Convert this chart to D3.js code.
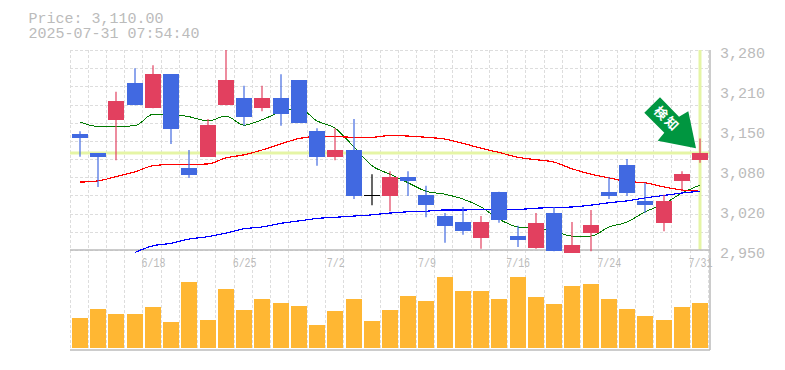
<!DOCTYPE html>
<html>
<head>
<meta charset="utf-8">
<script src="https://cdn.jsdelivr.net/npm/d3@7"></script>
<style>
  body { margin: 0; background: #fff; }
  text { font-family: "Liberation Mono", monospace; }
</style>
</head>
<body>
<div id="chart"></div>
<script>
const dates = ["6/12","6/13","6/16","6/17","6/18","6/19","6/20","6/23","6/24","6/25",
  "6/26","6/27","6/30","7/1","7/2","7/3","7/4","7/7","7/8","7/9",
  "7/10","7/11","7/14","7/15","7/16","7/17","7/18","7/22","7/23","7/24",
  "7/25","7/28","7/29","7/30","7/31"];
const labelDates = ["6/18","6/25","7/2","7/9","7/16","7/24","7/31"];

const opens  = [3141,3110,3165,3226,3184,3240,3085,3104,3189,3201,3184,3201,3230,3146,3104,3115,3041,3039,3070,3041,3006,2996,2970,3046,2973,2953,3011,2945,2978,3046,3090,3031,2995,3064,3099];
const highs  = [3146,3110,3211,3250,3255,3240,3115,3166,3280,3221,3221,3240,3230,3151,3151,3166,3075,3080,3080,3056,3011,3021,3006,3046,2990,3011,3021,2996,3016,3070,3100,3061,3041,3080,3134];
const lows   = [3104,3054,3098,3189,3184,3125,3069,3104,3189,3155,3179,3155,3160,3089,3098,3034,3024,3014,3039,3004,2962,2975,2952,2995,2955,2952,2948,2945,2948,3034,3039,3011,2981,3047,3094];
const closes = [3135,3104,3196,3189,3240,3150,3074,3156,3230,3170,3201,3174,3160,3104,3115,3039,3041,3070,3064,3024,2990,2981,2996,3000,2966,2995,2948,2958,2991,3039,3044,3024,3031,3075,3110];
const volume = [30,39,34,34,41,26,66,28,59,38,49,45,42,23,37,49,27,38,52,47,71,57,57,49,71,51,44,62,64,49,39,32,28,41,45];

const maShort = [3161,3154,3154,3155,3174,3174,3170,3163,3171,3156,3165,3178,3184,3163,3151,3120,3089,3075,3061,3047,3042,3034,3021,3001,2988,2986,2981,2973,2973,2988,2996,3013,3026,3044,3057];
const maMid   = [3062,3064,3071,3079,3089,3091,3091,3092,3102,3107,3115,3125,3134,3137,3137,3136,3136,3139,3138,3136,3133,3126,3118,3111,3103,3099,3095,3084,3075,3069,3063,3061,3054,3049,3047];
const maLong  = [null,null,null,2946,2957,2961,2968,2972,2978,2985,2988,2994,2998,3002,3004,3006,3008,3011,3013,3014,3016,3016,3017,3017,3017,3019,3020,3021,3024,3028,3031,3036,3040,3044,3047];

const priceTicks = [3280,3214,3148,3082,3016,2950];
const lastPrice = 3110;
const priceText = "Price: 3,110.00";
const timeText = "2025-07-31 07:54:40";

const width = 785, height = 370;
const plotLeft = 70, plotRight = 710, plotTop = 50, priceBottom = 250, volBottom = 348, boxBottom = 350;
const red = "#e2405f", blue = "#4169e1", grey = "#bbb", hilite = "#e5f5a5";

const svg = d3.select("#chart").append("svg")
  .attr("width", width).attr("height", height)
  .style("display", "block");

// index -> left edge of the candle, rounded like the reference
const x = d3.scaleLinear().domain([0, dates.length - 1]).range([72, 692]);
const barW = 16;
const cx = i => Math.round(x(i)) + barW / 2;
const y = d3.scaleLinear().domain([2950, 3280]).range([priceBottom, plotTop]);
const yVol = d3.scaleLinear().domain([0, 100]).range([volBottom, volBottom - 100]);

// — Grid —
const grid = svg.append("g")
  .attr("stroke", "#ddd")
  .attr("stroke-dasharray", "3,2")
  .attr("shape-rendering", "crispEdges");
d3.range(dates.length + 1).forEach(i => {
  const gx = Math.floor(x(i) - 2) + 0.5;
  grid.append("line").attr("x1", gx).attr("x2", gx).attr("y1", plotTop).attr("y2", boxBottom);
});
d3.range(2950, 3281, 30).forEach(v => {
  const gy = Math.round(y(v)) + 0.5;
  grid.append("line").attr("x1", plotLeft).attr("x2", plotRight).attr("y1", gy).attr("y2", gy);
});

// — Highlight of the last price and the last day —
svg.append("line")
  .attr("x1", plotLeft).attr("x2", plotRight)
  .attr("y1", y(lastPrice)).attr("y2", y(lastPrice))
  .attr("stroke", hilite).attr("stroke-width", 3);
svg.append("line")
  .attr("x1", cx(34)).attr("x2", cx(34))
  .attr("y1", plotTop).attr("y2", priceBottom)
  .attr("stroke", hilite).attr("stroke-width", 3);

// — Volume —
svg.append("g").selectAll("rect")
  .data(volume)
  .join("rect")
    .attr("x", (d, i) => Math.round(x(i)))
    .attr("y", d => yVol(d))
    .attr("width", barW)
    .attr("height", d => yVol(0) - yVol(d))
    .attr("fill", "#ffb733");

// — Frame —
const frame = svg.append("g")
  .attr("stroke", grey).attr("stroke-width", 1.5).attr("fill", "none");
frame.append("line").attr("x1", plotLeft).attr("x2", plotRight).attr("y1", priceBottom).attr("y2", priceBottom);
frame.append("line").attr("x1", plotLeft).attr("x2", plotRight).attr("y1", boxBottom).attr("y2", boxBottom);
frame.append("line").attr("x1", plotRight).attr("x2", plotRight).attr("y1", plotTop).attr("y2", boxBottom);

// — Moving averages —
const line = d3.line()
  .defined(d => d !== null)
  .curve(d3.curveMonotoneX)
  .x((d, i) => cx(i))
  .y(d => y(d));
[[maShort, "#007a00", 1], [maMid, "#ff0000", 1.2], [maLong, "#0000ff", 1.2]].forEach(([s, c, w]) => {
  svg.append("path")
    .datum(s)
    .attr("fill", "none")
    .attr("stroke", c)
    .attr("stroke-width", w)
    .attr("shape-rendering", "crispEdges")
    .attr("d", line);
});

// — Candles —
const candle = svg.append("g").selectAll("g")
  .data(dates.map((d, i) => i))
  .join("g");
const candleColor = i => closes[i] > opens[i] ? red : closes[i] < opens[i] ? blue : "#000";
candle.append("line")
  .attr("x1", i => cx(i)).attr("x2", i => cx(i))
  .attr("y1", i => y(highs[i])).attr("y2", i => y(lows[i]))
  .attr("stroke", candleColor)
  .attr("stroke-width", 1.2);
candle.append("rect")
  .attr("x", i => Math.round(x(i)))
  .attr("y", i => Math.round(y(Math.max(opens[i], closes[i]))))
  .attr("width", barW)
  .attr("height", i => Math.max(1, Math.round(y(Math.min(opens[i], closes[i]))) - Math.round(y(Math.max(opens[i], closes[i])))))
  .attr("fill", candleColor);

// — Axes —
const yAxis = d3.axisRight(y)
  .tickValues(priceTicks)
  .tickSize(0)
  .tickPadding(10)
  .tickFormat(d => d3.format(",")(Math.round(d / 10) * 10));
const gy = svg.append("g")
  .attr("transform", `translate(${plotRight},3)`)
  .call(yAxis);
gy.select(".domain").remove();
gy.selectAll("text")
  .attr("fill", grey)
  .style("font-size", "15px");

const xBand = d3.scalePoint().domain(dates).range([cx(0), cx(34)]);
const xAxis = d3.axisBottom(xBand)
  .tickValues(labelDates)
  .tickSize(0)
  .tickPadding(0);
const gx = svg.append("g")
  .attr("transform", `translate(0,${priceBottom + 8})`)
  .call(xAxis);
gx.select(".domain").remove();
// tall narrow digits in the reference
gx.selectAll("text")
  .attr("fill", grey)
  .attr("transform", "scale(.83,1)")
  .style("font-size", "12px");

// — Header text —
svg.append("text").attr("x", 28.5).attr("y", 23)
  .attr("fill", grey).style("font-size", "15px").text(priceText);
svg.append("text").attr("x", 28.5).attr("y", 38)
  .attr("fill", grey).style("font-size", "15px").text(timeText);

// — Detection arrow, placed relative to the last candle —
const arrow = svg.append("g")
  .attr("transform", `translate(${cx(34)},${y(lastPrice)})`);
arrow.append("path")
  .attr("d", "M-40,-55.7 L-55.7,-40.3 L-35.7,-20.3 L-42.3,-12.3 L-4,-4.7 L-11.7,-41.7 L-21,-36.3 Z")
  .attr("fill", "#009640");
arrow.append("text")
  .attr("transform", "translate(-33,-34) rotate(45)")
  .attr("text-anchor", "middle")
  .attr("dy", "0.36em")
  .attr("fill", "#fff")
  .style("font-family", '"Noto Sans CJK JP"')
  .style("font-weight", "700")
  .style("font-size", "13px")
  .style("letter-spacing", "2px")
  .text("検知");
</script>
</body>
</html>
